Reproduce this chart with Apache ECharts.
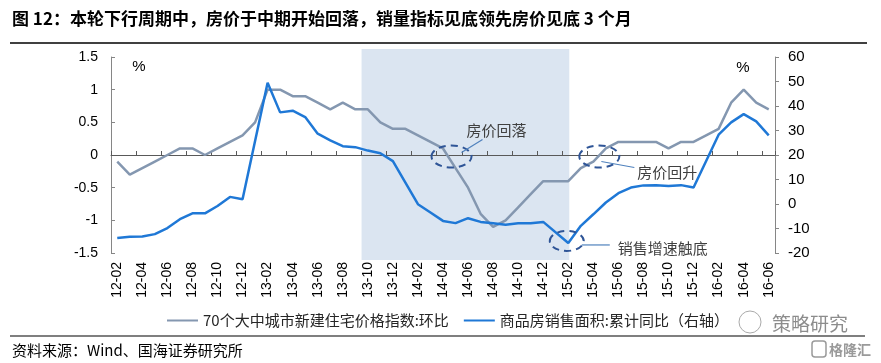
<!DOCTYPE html>
<html>
<head>
<meta charset="utf-8">
<script src="https://cdn.jsdelivr.net/npm/echarts@6/dist/echarts.min.js"></script>
<style>
html,body{margin:0;padding:0;background:#fff;}
#c{width:881px;height:363px;}
</style>
</head>
<body>
<div id="c"></div>
<script>
const months = ['12-02','12-03','12-04','12-05','12-06','12-07','12-08','12-09','12-10','12-11','12-12',
'13-01','13-02','13-03','13-04','13-05','13-06','13-07','13-08','13-09','13-10','13-11','13-12',
'14-01','14-02','14-03','14-04','14-05','14-06','14-07','14-08','14-09','14-10','14-11','14-12',
'15-01','15-02','15-03','15-04','15-05','15-06','15-07','15-08','15-09','15-10','15-11','15-12',
'16-01','16-02','16-03','16-04','16-05','16-06'];

const priceMoM = [-0.1,-0.3,-0.2,-0.1,0,0.1,0.1,0,0.1,0.2,0.3,
0.5,1.0,1.0,0.9,0.9,0.8,0.7,0.8,0.7,0.7,0.5,0.4,
0.4,0.3,0.2,0.1,-0.2,-0.5,-0.9,-1.1,-1.0,-0.8,-0.6,-0.4,
-0.4,-0.4,-0.2,-0.1,0.1,0.2,0.2,0.2,0.2,0.1,0.2,0.2,
0.3,0.4,0.8,1.0,0.8,0.7];

const salesYoY = [-13.9,-13.4,-13.3,-12.3,-9.8,-6.2,-3.8,-3.8,-0.8,2.9,1.9,
null,49.5,37.4,38.1,35.5,28.7,26.0,23.6,23.2,21.8,20.7,17.5,
null,-0.1,-3.5,-6.9,-7.8,-5.8,-7.3,-7.9,-8.5,-7.9,-7.9,-7.3,
null,-15.9,-8.9,-4.2,0.6,4.4,6.7,7.6,7.7,7.3,7.7,6.7,
null,28.3,33.3,36.7,33.7,28.0];

const seriesNames = ['70个大中城市新建住宅价格指数:环比','商品房销售面积:累计同比（右轴）'];
const shadeRange = ['13-10','15-02'];
const leftTicks = {min:-1.5, max:1.5, interval:0.5};
const rightTicks = {min:-20, max:60, interval:10};

const numFont = "'Liberation Sans', Arial, sans-serif";
const cjkFont = "'Noto Sans CJK SC', sans-serif";

const chart = echarts.init(document.getElementById('c'), null, {renderer:'canvas'});

const option = {
  animation:false,
  backgroundColor:'#fff',
  grid:{left:111, right:106, top:57, bottom:110, containLabel:false},
  legend:{
    left:162, top:308, itemWidth:31, itemHeight:2, itemGap:15, icon:'rect',
    textStyle:{fontSize:15, color:'#262626', fontFamily:cjkFont},
    data:seriesNames
  },
  xAxis:[
    {type:'category', data:months, position:'bottom', boundaryGap:true,
     axisLine:{show:false, onZero:false}, axisTick:{show:false},
     axisLabel:{rotate:90, interval:1, fontSize:14, color:'#000', fontFamily:numFont, margin:9}},
    {type:'category', data:months, position:'top', boundaryGap:true, z:2,
     axisLine:{show:true, onZero:true, onZeroAxisIndex:0, lineStyle:{color:'#595959', width:1}},
     axisTick:{show:true, inside:false, interval:1, length:4, lineStyle:{color:'#595959'}},
     axisLabel:{show:false}}
  ],
  yAxis:[
    {type:'value', position:'left', min:leftTicks.min, max:leftTicks.max, interval:leftTicks.interval,
     axisLine:{show:true, lineStyle:{color:'#868686'}},
     axisTick:{show:true, inside:true, length:4, lineStyle:{color:'#868686'}},
     splitLine:{show:false},
     axisLabel:{fontSize:14, color:'#000', fontFamily:numFont, margin:13}},
    {type:'value', position:'right', min:rightTicks.min, max:rightTicks.max, interval:rightTicks.interval,
     axisLine:{show:true, lineStyle:{color:'#868686'}},
     axisTick:{show:true, inside:false, length:4, lineStyle:{color:'#868686'}},
     splitLine:{show:false},
     axisLabel:{fontSize:15, color:'#000', fontFamily:numFont, margin:13}}
  ],
  series:[
    {type:'line', name:seriesNames[0], data:priceMoM, xAxisIndex:0, yAxisIndex:0, z:3,
     showSymbol:false, symbol:'none', lineStyle:{color:'#8497b0', width:2.5}, itemStyle:{color:'#8497b0'}},
    {type:'line', name:seriesNames[1], data:salesYoY, xAxisIndex:0, yAxisIndex:1, z:4,
     connectNulls:true, showSymbol:false, symbol:'none', lineStyle:{color:'#1f78d6', width:2.5}, itemStyle:{color:'#1f78d6'}}
  ]
};
chart.setOption(option);

const graphics = [];

// shaded period, computed from the axes (extends slightly beyond the plot, as in the source)
const pA = chart.convertToPixel({xAxisIndex:0, yAxisIndex:0}, [shadeRange[0], leftTicks.max]);
const pB = chart.convertToPixel({xAxisIndex:0, yAxisIndex:0}, [shadeRange[1], leftTicks.min]);
const band = chart.getModel().getComponent('xAxis', 0).axis.getBandWidth();
graphics.push({type:'rect', z:-10, silent:true,
  shape:{x:pA[0] - band/2, y:pA[1] - 8, width:(pB[0] + 1) - (pA[0] - band/2), height:(pB[1] + 7) - (pA[1] - 8)},
  style:{fill:'#dbe5f1'}});

// annotations anchored to data coordinates
const annotations = [
  {text:'房价回落', cat:'14-05', val:0, axis:0, dx:-4, dy:1.5, rx:20, ry:11,
   line:[10,-4,31,-17], tx:15, ty:-26},
  {text:'房价回升', cat:'15-04', val:0, axis:0, dx:6, dy:1.5, rx:20, ry:11,
   line:[2,5,35,11], tx:38, ty:16},
  {text:'销售增速触底', cat:'15-02', val:-15.9, axis:1, dx:-1.5, dy:-2, rx:17, ry:10,
   line:[15,4,43,4], tx:51, ty:7}
];

annotations.forEach(a => {
  const p = chart.convertToPixel({xAxisIndex:0, yAxisIndex:a.axis}, [a.cat, a.val]);
  const cx = p[0] + a.dx, cy = p[1] + a.dy;
  graphics.push({type:'ellipse', shape:{cx:cx, cy:cy, rx:a.rx, ry:a.ry}, z:10,
    style:{fill:null, stroke:'#2f5597', lineWidth:2, lineDash:[7,5]}});
  graphics.push({type:'line', shape:{x1:cx+a.line[0], y1:cy+a.line[1], x2:cx+a.line[2], y2:cy+a.line[3]}, z:10,
    style:{stroke:'#4f81bd', lineWidth:1.2}});
  graphics.push({type:'text', x:cx+a.tx, y:cy+a.ty, z:10,
    style:{text:a.text, fill:'#404040', font:'15px ' + cjkFont, textVerticalAlign:'middle', textAlign:'left'}});
});

// title, rules, units, source, watermark
graphics.push(
  {type:'text', x:12, y:19, style:{text:'图 12：本轮下行周期中，房价于中期开始回落，销量指标见底领先房价见底 3 个月',
    fill:'#000', font:'bold 17px ' + cjkFont, textVerticalAlign:'middle'}},
  {type:'line', shape:{x1:10, y1:43, x2:867, y2:43}, style:{stroke:'#000', lineWidth:1.5}},
  {type:'text', x:139, y:67, z:10, style:{text:'%', fill:'#000', font:'15px ' + numFont, textAlign:'center', textVerticalAlign:'middle'}},
  {type:'text', x:743, y:68, z:10, style:{text:'%', fill:'#000', font:'15px ' + numFont, textAlign:'center', textVerticalAlign:'middle'}},
  {type:'line', shape:{x1:10, y1:336, x2:865, y2:336}, style:{stroke:'#000', lineWidth:1.2}},
  {type:'text', x:12, y:350, style:{text:'资料来源：Wind、国海证券研究所', fill:'#000', font:'15px ' + cjkFont, textVerticalAlign:'middle'}},
  {type:'circle', shape:{cx:750, cy:322, r:11}, style:{fill:null, stroke:'#aaa', lineWidth:1}},
  {type:'text', x:772, y:324, style:{text:'策略研究', fill:'#8c8c8c', font:'19px ' + cjkFont, textVerticalAlign:'middle'}},
  {type:'rect', shape:{x:812, y:341, width:14, height:16, r:3}, style:{fill:null, stroke:'#9a9a9a', lineWidth:1.5}},
  {type:'text', x:829, y:350, style:{text:'格隆汇', fill:'#9a9a9a', font:'bold 14px ' + cjkFont, textVerticalAlign:'middle'}}
);

chart.setOption({graphic: graphics});
</script>
</body>
</html>
